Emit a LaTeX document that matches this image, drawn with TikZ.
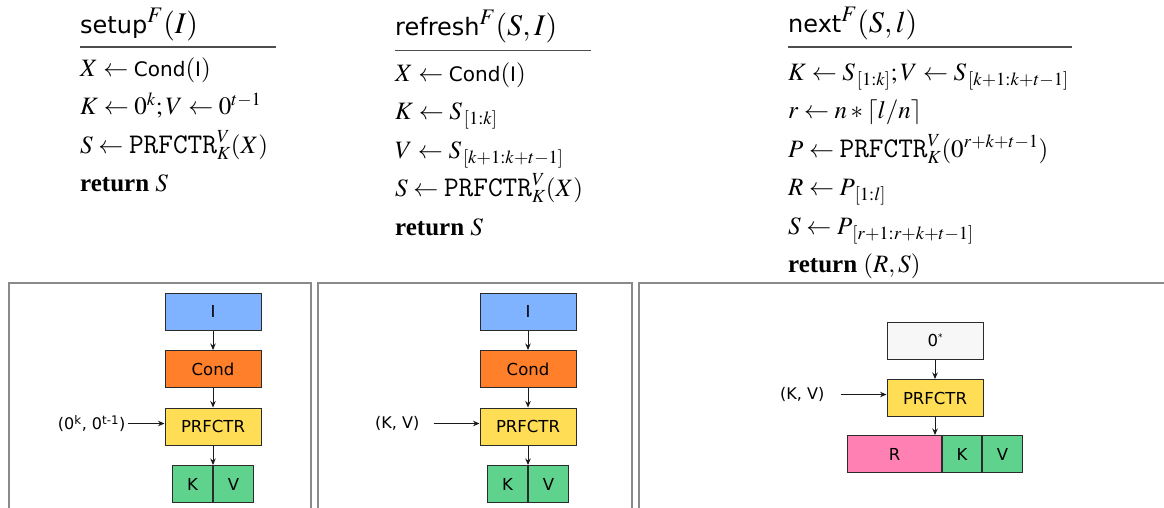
\documentclass[tikz,border=0pt]{standalone}
\usepackage{mathptmx}
\usepackage[no-math]{fontspec}
\setmainfont{Liberation Serif}
\setsansfont[Scale=0.8]{DejaVu Sans}
\setmonofont[Scale=1.14]{Latin Modern Mono}
\newfontfamily\figfont{DejaVu Sans}
\usetikzlibrary{arrows.meta,positioning}
\definecolor{SkyBlue}{HTML}{80B3FF}
\definecolor{Carrot}{HTML}{FF7F2A}
\definecolor{Mustard}{HTML}{FFDD55}
\definecolor{Mint}{HTML}{5FD38D}
\definecolor{Rose}{HTML}{FF80B2}
\definecolor{Paper}{HTML}{F7F7F7}
\definecolor{Edge}{HTML}{2B2B2B}
\definecolor{Frame}{HTML}{8A8A8A}
\definecolor{RuleGray}{HTML}{4D4D4D}
\definecolor{Ink}{HTML}{1A1A1A}

\begin{document}
\begin{tikzpicture}[x=1pt,y=-1pt,
  node distance=19.5pt,
  algline/.style={anchor=base west,inner sep=0pt,font=\fontsize{25}{30}\selectfont},
  alghead/.style={anchor=base west,inner sep=0pt,font=\fontsize{30}{36}\selectfont},
  headrule/.style={draw=RuleGray,line width=1.2pt},
  box/.style={draw=Edge,fill=#1,line width=1pt,minimum width=96pt,minimum height=37pt,
    inner sep=0pt,font=\fontsize{16.5}{19}\figfont},
  cell/.style={box=#1,minimum width=40pt},
  lab/.style={inner sep=2pt,font=\fontsize{16}{19}\figfont},
  arrow/.style={-{Stealth[length=6.5pt,width=5.5pt]},line width=.9pt,draw=Ink},
  panel/.style={draw=Frame,line width=1.2pt}]
\useasboundingbox (0,0) rectangle (1164,507);
% setup
\node[alghead](sh) at (80,33){\textsf{setup}$^F(I)$};
\draw[headrule](80,47)--(276,47);
\node[algline](s1) at (80,76){$X \leftarrow \textsf{Cond}(\textsf{I})$};
\node[algline](s2) at (80,114.5){$K \leftarrow 0^k; V \leftarrow 0^{t-1}$};
\node[algline](s3) at (80,153){$S \leftarrow \texttt{PRFCTR}^V_K(X)$};
\node[algline](s4) at (80,191.5){\textbf{return} $S$};
% refresh
\node[alghead](fh) at (395,35){\textsf{refresh}$^F(S,I)$};
\draw[headrule](395,50.5)--(591,50.5);
\node[algline](f1) at (395,81){$X \leftarrow \textsf{Cond}(\textsf{I})$};
\node[algline](f2) at (395,119.5){$K \leftarrow S_{\mkern2mu[1:k]}$};
\node[algline](f3) at (395,158){$V \leftarrow S_{\mkern2mu[k+1:k+t-1]}$};
\node[algline](f4) at (395,196.5){$S \leftarrow \texttt{PRFCTR}^V_K(X)$};
\node[algline](f5) at (395,235){\textbf{return} $S$};
% next
\node[alghead](nh) at (788,32){\textsf{next}$^F(S,l)$};
\draw[headrule](788,47)--(1072,47);
\node[algline](n1) at (788,80){$K \leftarrow S_{\mkern2mu[1:k]}; V \leftarrow S_{\mkern2mu[k+1:k+t-1]}$};
\node[algline](n2) at (788,118.5){$r \leftarrow n * \lceil l/n \rceil$};
\node[algline](n3) at (788,157){$P \leftarrow \texttt{PRFCTR}^V_K(0^{r+k+t-1})$};
\node[algline](n4) at (788,195.5){$R \leftarrow P_{\mkern3mu[1:l]}$};
\node[algline](n5) at (788,234){$S \leftarrow P_{\mkern3mu[r+1:r+k+t-1]}$};
\node[algline](n6) at (788,272.5){\textbf{return} $(R,S)$};
% panels
\draw[panel](9,283) rectangle (311,530);
\draw[panel](318,283) rectangle (632,530);
\draw[panel](639,283) rectangle (1175,530);
% setup flow
\node[box=SkyBlue](in1) at (213,311.5){I};
\node[box=Carrot,below=of in1](cond1){Cond};
\node[box=Mustard,below=of cond1](prf1){PRFCTR};
\node[cell=Mint,below=of prf1.south,anchor=north east](k1){K};
\node[cell=Mint,right=0pt of k1](v1){V};
\node[lab,left=37pt of prf1,yshift=3pt](zk1){(0\textsuperscript{k}, 0\textsuperscript{t-1})};
\draw[arrow](in1)--(cond1);\draw[arrow](cond1)--(prf1);\draw[arrow](prf1.south)--(k1.north east);
\draw[arrow](zk1.east)--(zk1.east -| prf1.west);
% refresh flow
\node[box=SkyBlue](in2) at (528,311.5){I};
\node[box=Carrot,below=of in2](cond2){Cond};
\node[box=Mustard,below=of cond2](prf2){PRFCTR};
\node[cell=Mint,below=of prf2.south,anchor=north east](k2){K};
\node[cell=Mint,right=0pt of k2](v2){V};
\node[lab,left=58pt of prf2,yshift=3pt](kv2){(K, V)};
\draw[arrow](in2)--(cond2);\draw[arrow](cond2)--(prf2);\draw[arrow](prf2.south)--(k2.north east);
\draw[arrow,shorten <=12pt](kv2.east)--(kv2.east -| prf2.west);
% next flow
\node[box=Paper](zero3) at (935,340.5){0\raisebox{6pt}{\fontsize{9}{9}\selectfont *}};
\node[box=Mustard,below=of zero3](prf3){PRFCTR};
\node[box=Rose,minimum width=94pt,below=18pt of prf3.south,anchor=north east,xshift=7pt](r3){R};
\node[cell=Mint,minimum width=39pt,right=0pt of r3](k3){K};
\node[cell=Mint,right=0pt of k3](v3){V};
\node[lab,left=60pt of prf3,yshift=3.5pt](kv3){(K, V)};
\draw[arrow](zero3)--(prf3);\draw[arrow](prf3.south)--(prf3.south |- r3.north);
\draw[arrow,shorten <=14pt](kv3.east)--(kv3.east -| prf3.west);
\end{tikzpicture}
\end{document}
